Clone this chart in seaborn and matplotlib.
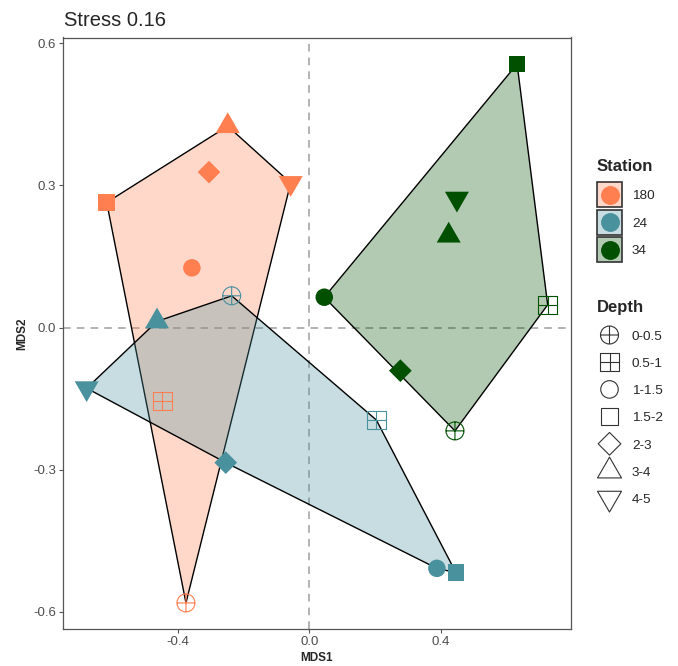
import numpy as np
import pandas as pd
import matplotlib
matplotlib.use("Agg")
import matplotlib.pyplot as plt
from matplotlib.path import Path
from matplotlib.patches import Rectangle
from matplotlib.colors import to_rgba
import seaborn as sns

# ---- data -------------------------------------------------------------
stations = ["180", "24", "34"]
depths = ["0-0.5", "0.5-1", "1-1.5", "1.5-2", "2-3", "3-4", "4-5"]
station_colors = ["#FF7F50", "#4A919E", "#005000"]

# NMDS scores, one value per depth class (order as in `depths`)
mds1_180 = [-0.375, -0.447, -0.357, -0.616, -0.305, -0.248, -0.0565]
mds2_180 = [-0.581, -0.155, 0.126, 0.264, 0.328, 0.425, 0.305]
mds1_24 = [-0.236, 0.204, 0.388, 0.446, -0.254, -0.463, -0.677]
mds2_24 = [0.067, -0.195, -0.508, -0.517, -0.285, 0.013, -0.128]
mds1_34 = [0.443, 0.725, 0.0456, 0.632, 0.277, 0.424, 0.449]
mds2_34 = [-0.218, 0.048, 0.064, 0.556, -0.091, 0.194, 0.272]

stress = 0.16
xticks = [-0.4, 0.0, 0.4]
xtick_labels = ["-0.4", "0.0", "0.4"]
yticks = [-0.6, -0.3, 0.0, 0.3, 0.6]
ytick_labels = ["-0.6", "-0.3", "0.0", "0.3", "0.6"]

df = pd.DataFrame({
    "MDS1": mds1_180 + mds1_24 + mds1_34,
    "MDS2": mds2_180 + mds2_24 + mds2_34,
    "Station": [s for s in stations for _ in depths],
    "Depth": depths * len(stations),
})

# ---- marker shapes ----------------------------------------------------
def closed(verts):
    verts = list(verts) + [verts[0]]
    codes = [Path.MOVETO] + [Path.LINETO] * (len(verts) - 2) + [Path.CLOSEPOLY]
    return Path(verts, codes)

def cross():
    return Path([(-1, 0), (1, 0), (0, -1), (0, 1)],
                [Path.MOVETO, Path.LINETO, Path.MOVETO, Path.LINETO])

circle = Path.unit_circle()
square = closed([(-1, -1), (1, -1), (1, 1), (-1, 1)])
diamond = closed([(0, 1), (1, 0), (0, -1), (-1, 0)])
tri_up = closed([(0, 1.5551), (1.3468, -0.7776), (-1.3468, -0.7776)])
tri_down = closed([(0, -1.5551), (1.3468, 0.7776), (-1.3468, 0.7776)])
circle_plus = Path.make_compound_path(circle, cross())
square_plus = Path.make_compound_path(square, cross())

depth_markers = dict(zip(depths, [circle_plus, square_plus, circle, square,
                                  diamond, tri_up, tri_down]))
depth_sizes = dict(zip(depths, [168, 177, 159, 144, 267, 398, 398]))
open_depths = ["0-0.5", "0.5-1"]
palette = dict(zip(stations, station_colors))

# ---- figure -----------------------------------------------------------
sns.set_style("white")
plt.rcParams["font.family"] = ["Liberation Sans", "DejaVu Sans"]

W, H = 678, 666
fig = plt.figure(figsize=(W / 100, H / 100), dpi=100)
ax_l, ax_r, ax_t, ax_b = 63.3, 570.7, 37.5, 629.0
ax = fig.add_axes([ax_l / W, 1 - ax_b / H, (ax_r - ax_l) / W, (ax_b - ax_t) / H])

ax.axhline(0, color="#9E9E9E", lw=1.1, ls=(0, (5, 4)), zorder=1)
ax.axvline(0, color="#9E9E9E", lw=1.1, ls=(0, (5, 4)), zorder=1)


def convex_hull(pts):
    pts = sorted(map(tuple, pts))
    def turn(o, a, b):
        return (a[0] - o[0]) * (b[1] - o[1]) - (a[1] - o[1]) * (b[0] - o[0])
    lower, upper = [], []
    for p in pts:
        while len(lower) >= 2 and turn(lower[-2], lower[-1], p) <= 0:
            lower.pop()
        lower.append(p)
    for p in reversed(pts):
        while len(upper) >= 2 and turn(upper[-2], upper[-1], p) <= 0:
            upper.pop()
        upper.append(p)
    return np.array(lower[:-1] + upper[:-1])


for st in stations:
    sub = df[df["Station"] == st]
    hull = convex_hull(sub[["MDS1", "MDS2"]].to_numpy())
    ax.fill(hull[:, 0], hull[:, 1], facecolor=to_rgba(palette[st], 0.3),
            edgecolor="black", lw=1.0, zorder=2)

sns.scatterplot(data=df, x="MDS1", y="MDS2", hue="Station", style="Depth",
                size="Depth", hue_order=stations, style_order=depths,
                size_order=depths, palette=palette, markers=depth_markers,
                sizes=depth_sizes, linewidth=0, legend=False, zorder=3, ax=ax)

# open symbols for the two shallowest layers: coloured outline, no fill
pts = ax.collections[-1]
fc = np.array(pts.get_facecolors())
ec = fc.copy()
is_open = df["Depth"].isin(open_depths).to_numpy()
fc[is_open, 3] = 0.0
pts.set_facecolors(fc)
pts.set_edgecolors(ec)
pts.set_linewidths(np.where(is_open, 0.8, 0.0))

ax.set_xlim(-0.748, 0.795)
ax.set_ylim(-0.636, 0.612)
ax.set_xticks(xticks, xtick_labels)
ax.set_yticks(yticks, ytick_labels)
ax.tick_params(axis="both", direction="out", length=2.9, width=0.8,
               color="#555555", labelcolor="#4D4D4D", labelsize=9.5, pad=2.2,
               bottom=True, left=True)
for sp in ax.spines.values():
    sp.set_color("#555555")
    sp.set_linewidth(0.9)
ax.set_xlabel("MDS1", fontsize=8.5, fontweight="bold", labelpad=3)
ax.set_ylabel("MDS2", fontsize=8.5, fontweight="bold", labelpad=4)

# ---- title and legends (figure pixel coordinates) ---------------------
ov = fig.add_axes([0, 0, 1, 1], zorder=5)
ov.set_axis_off()
ov.set_xlim(0, W)
ov.set_ylim(H, 0)

ov.text(63.5, 26, f"Stress {stress}", fontsize=14.5, va="baseline", ha="left")

ov.text(597, 171, "Station", fontsize=12, fontweight="bold", va="baseline")
key_x = 609.5
for st, yc in zip(stations, [194.5, 222.0, 249.5]):
    ov.add_patch(Rectangle((key_x - 12.5, yc - 12.5), 25, 25,
                           facecolor=to_rgba(palette[st], 0.3),
                           edgecolor="#333333", lw=1.2, clip_on=False))
    ov.scatter([key_x], [yc], s=185, marker=circle, color=palette[st],
               linewidths=0, clip_on=False)
    ov.text(632, yc + 4.8, st, fontsize=9.7, va="baseline")

ov.text(597, 312, "Depth", fontsize=12, fontweight="bold", va="baseline")
for i, d in enumerate(depths):
    yc = 335 + 27.2 * i
    ov.scatter([key_x], [yc], s=depth_sizes[d], marker=depth_markers[d],
               facecolors="none", edgecolors="#333333", linewidths=0.8,
               clip_on=False)
    ov.text(632, yc + 4.8, d, fontsize=9.7, va="baseline")

fig.savefig("out.png", dpi=100)
